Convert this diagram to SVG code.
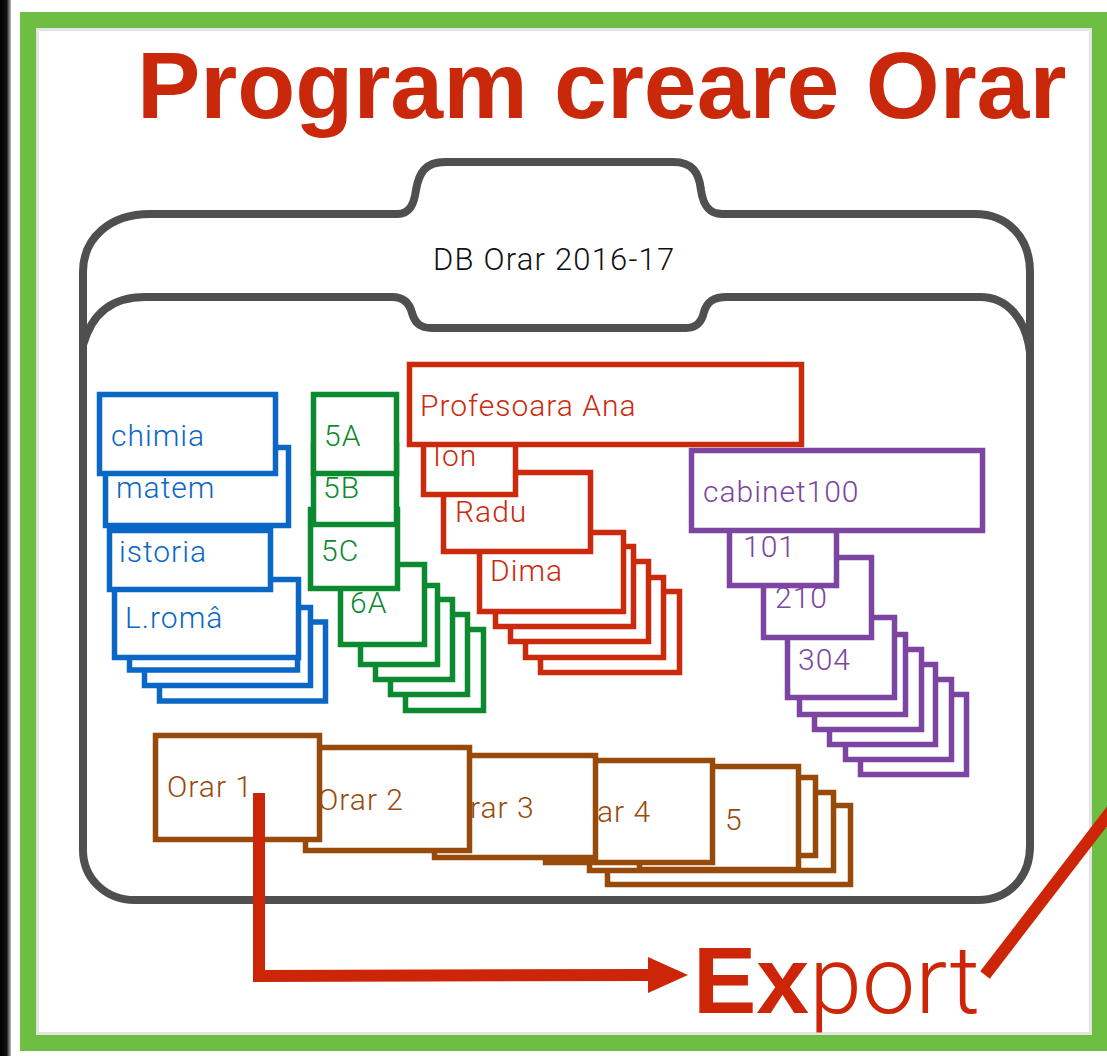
<svg xmlns="http://www.w3.org/2000/svg" width="1107" height="1056" viewBox="0 0 1107 1056">
<style>
.bx{fill:#fff;stroke-width:5.5}
.bl{stroke:#0b67c5}.blt{fill:#0b67c5}
.gr{stroke:#0c8a2f}.grt{fill:#0c8a2f}
.rd{stroke:#cc2a0c}.rdt{fill:#cc2a0c}
.pu{stroke:#7b45a1}.put{fill:#7b45a1}
.br{stroke:#974a0a}.brt{fill:#974a0a}
.lbl{font-family:Roboto,"Liberation Sans",sans-serif;font-weight:300;font-size:30px;letter-spacing:1px}
.fold{fill:none;stroke:#4f4f4f;stroke-width:8;stroke-linejoin:round}
.con{fill:none;stroke:#cc2508;stroke-width:12}
</style>
<defs>
<linearGradient id="edge" x1="0" y1="0" x2="1" y2="0">
<stop offset="0" stop-color="#000"/><stop offset="0.6" stop-color="#111"/><stop offset="1" stop-color="#bbb"/>
</linearGradient>
<marker id="arr" viewBox="0 0 40 36" refX="2" refY="18" markerWidth="40" markerHeight="36" markerUnits="userSpaceOnUse" orient="auto">
<path d="M0,0 L40,18 L0,36 Z" fill="#cc2508"/>
</marker>
</defs>
<rect width="1107" height="1056" fill="#fff"/>
<rect x="0" y="0" width="11" height="1056" fill="url(#edge)"/>
<rect x="28" y="20" width="1072" height="1023" fill="#fff" stroke="#6fbe44" stroke-width="16"/>
<rect x="37.5" y="29.5" width="1053" height="1004" fill="none" stroke="#e4e4e4" stroke-width="3"/>
<text x="137" y="118" font-family="'Liberation Sans',Arial,sans-serif" font-weight="bold" font-size="95" fill="#c9280b">Program creare Orar</text>

<g id="folder">
<path class="fold" d="M83,850 L83,272 C83,238 110,214 150,214 L397,214 C410,214 414,204 416,190 C419,172 426,162 445,162 L673,162 C692,162 699,172 701,190 C703,204 708,214 722,214 L975,214 C1008,214 1030,238 1030,272 L1030,846 C1030,878 1008,900 978,900 L135,900 C105,900 83,878 83,850 Z"/>
<path class="fold" d="M83,345 C92,313 112,297 145,297 L392,297 C405,297 410,305 412,313 C415,323 420,328 432,328 L686,328 C697,328 702,321 704,312 C707,302 713,297 727,297 L980,297 C1008,297 1026,320 1030,352"/>
<text x="433" y="270" class="lbl" style="font-size:31px;letter-spacing:1.2px" fill="#111">DB Orar 2016-17</text>
</g>

<g id="subjects">
<rect class="bx bl" x="159.5" y="622" width="166" height="79"/>
<rect class="bx bl" x="144.5" y="607.5" width="166" height="78"/>
<rect class="bx bl" x="129.5" y="592" width="168" height="78"/>
<g id="n-lroma"><rect class="bx bl" x="114.5" y="579.5" width="184" height="78"/><text class="lbl blt" x="125" y="628">L.româ</text></g>
<g id="n-istoria"><rect class="bx bl" x="109.5" y="530.5" width="161" height="59"/><text class="lbl blt" x="119" y="562">istoria</text></g>
<g id="n-matem"><rect class="bx bl" x="105.5" y="447.5" width="183" height="78"/><text class="lbl blt" x="116" y="498">matem</text></g>
<g id="n-chimia"><rect class="bx bl" x="99.5" y="394.5" width="176" height="79"/><text class="lbl blt" x="111" y="446">chimia</text></g>
</g>

<g id="classes">
<rect class="bx gr" x="405.5" y="629.5" width="78" height="81"/>
<rect class="bx gr" x="390.5" y="614.5" width="77" height="80"/>
<rect class="bx gr" x="375.5" y="599.5" width="77" height="80"/>
<rect class="bx gr" x="360.5" y="585.5" width="77" height="79"/>
<g id="n-6A"><rect class="bx gr" x="340.5" y="564.5" width="84" height="80"/><text class="lbl grt" x="350" y="613">6A</text></g>
<g id="n-5C"><rect class="bx gr" x="310.5" y="509.5" width="87" height="79"/><text class="lbl grt" x="321" y="561">5C</text></g>
<g id="n-5B"><rect class="bx gr" x="313.5" y="445" width="83" height="79.5"/><text class="lbl grt" x="323" y="498">5B</text></g>
<g id="n-5A"><rect class="bx gr" x="313.5" y="394.5" width="83" height="79"/><text class="lbl grt" x="324" y="446">5A</text></g>
</g>

<g id="teachers">
<rect class="bx rd" x="540.5" y="591.5" width="139" height="81"/>
<rect class="bx rd" x="525.5" y="577.5" width="138" height="80"/>
<rect class="bx rd" x="510.5" y="561.5" width="138" height="80"/>
<rect class="bx rd" x="495.5" y="546.5" width="138" height="80"/>
<g id="n-dima"><rect class="bx rd" x="479.5" y="532.5" width="144" height="79"/><text class="lbl rdt" x="490" y="581">Dima</text></g>
<g id="n-radu"><rect class="bx rd" x="443.5" y="472.5" width="147" height="79"/><text class="lbl rdt" x="455" y="522">Radu</text></g>
<g id="n-ion"><rect class="bx rd" x="423.5" y="414.5" width="92" height="80"/><text class="lbl rdt" x="433" y="466">Ion</text></g>
<g id="n-ana"><rect class="bx rd" x="409.5" y="364.5" width="392" height="80"/><text class="lbl rdt" x="420" y="416">Profesoara Ana</text></g>
</g>

<g id="rooms">
<rect class="bx pu" x="860.5" y="694.5" width="106" height="80"/>
<rect class="bx pu" x="845.5" y="679.5" width="106" height="80"/>
<rect class="bx pu" x="829.5" y="664.5" width="106" height="80"/>
<rect class="bx pu" x="814.5" y="649.5" width="107" height="80"/>
<rect class="bx pu" x="799.5" y="634.5" width="106" height="80"/>
<g id="n-304"><rect class="bx pu" x="787.5" y="617.5" width="107" height="80"/><text class="lbl put" x="798" y="670">304</text></g>
<g id="n-210"><rect class="bx pu" x="763.5" y="557.5" width="108" height="80"/><text class="lbl put" x="775" y="608">210</text></g>
<g id="n-101"><rect class="bx pu" x="729.5" y="505.5" width="107" height="80"/><text class="lbl put" x="743" y="557">101</text></g>
<g id="n-cab100"><rect class="bx pu" x="691.5" y="450.5" width="291" height="80"/><text class="lbl put" x="703" y="502">cabinet100</text></g>
</g>

<g id="schedules">
<rect class="bx br" x="607.5" y="805.5" width="243" height="79"/>
<rect class="bx br" x="589.5" y="792.5" width="244" height="78"/>
<rect class="bx br" x="657.5" y="777.5" width="158" height="78"/>
<g id="n-orar5"><rect class="bx br" x="639.5" y="766.5" width="159" height="103"/><text class="lbl brt" x="725" y="830">5</text></g>
<g id="n-orar4"><rect class="bx br" x="545.5" y="760.5" width="167" height="102"/><text class="lbl brt" x="597" y="822">ar 4</text></g>
<g id="n-orar3"><rect class="bx br" x="434.5" y="755.5" width="161" height="102"/><text class="lbl brt" x="470" y="818">rar 3</text></g>
<g id="n-orar2"><rect class="bx br" x="305.5" y="747.5" width="164" height="103"/><text class="lbl brt" x="318" y="810">Orar 2</text></g>
<g id="n-orar1"><rect class="bx br" x="155.5" y="735.5" width="164" height="104"/><text class="lbl brt" x="167" y="797">Orar 1</text></g>
</g>

<g id="connectors">
<path class="con" d="M259,793 L259,976 L650,975" stroke-linejoin="miter" marker-end="url(#arr)"/>
<path class="con" d="M985,975 L1115,806" stroke-width="11"/>
</g>

<g id="n-export">
<text x="693" y="1013" font-size="95" fill="#cc2508"><tspan font-family="'Liberation Sans',Arial,sans-serif" font-weight="bold">Ex</tspan><tspan font-family="Roboto,'Liberation Sans',sans-serif" font-weight="300">port</tspan></text>
</g>
</svg>
